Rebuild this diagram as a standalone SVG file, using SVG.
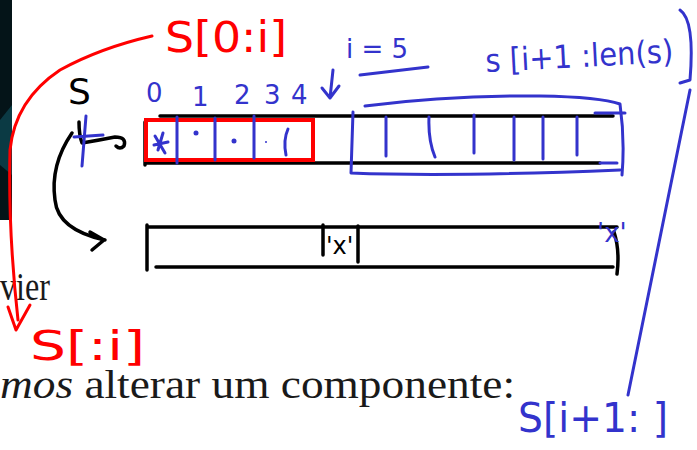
<svg xmlns="http://www.w3.org/2000/svg" width="697" height="450" viewBox="0 0 697 450">
<defs>
<style>
.k{fill:none;stroke:#000;stroke-width:3.5;stroke-linecap:round;stroke-linejoin:round}
.b{fill:none;stroke:#3333cc;stroke-width:3;stroke-linecap:round;stroke-linejoin:round}
.r{fill:none;stroke:#ff0000;stroke-width:3;stroke-linecap:round;stroke-linejoin:round}
.hb{font-family:"DejaVu Sans",sans-serif;fill:#3333cc}
.hr{font-family:"DejaVu Sans",sans-serif;fill:#ff0000}
.hk{font-family:"DejaVu Sans",sans-serif;fill:#000}
.tx{font-family:"Liberation Serif",serif;fill:#1a1a1a;font-size:40px}
</style>
</defs>
<rect width="697" height="450" fill="#fff"/>
<rect x="0" y="0" width="12" height="220" fill="#041418"/>
<path d="M0 120 L12 105 L12 175 L0 165Z" fill="#0b3a44"/>

<!-- slide text -->
<text class="tx" x="0" y="300" textLength="50" lengthAdjust="spacingAndGlyphs">vier</text>
<text class="tx" x="0" y="398" textLength="515" lengthAdjust="spacingAndGlyphs"><tspan font-style="italic">mos</tspan> alterar um componente:</text>

<!-- top array -->
<g id="array-top">
<path class="k" d="M160 116 L613 116"/>
<path class="k" d="M146 163 L600 163"/>
<path class="k" d="M145 122 L145 165"/>
<rect x="146" y="120" width="167" height="40" fill="none" stroke="#ff0000" stroke-width="4"/>
<path class="b" d="M177 117 L177 163 M215 118 L215 160 M254 116 L254 158"/>
<path class="b" d="M386 117 L386 156 M429 117 Q428 140 435 157 M474 115 L474 153 M514 117 L514 160 M543 117 L543 159 M577 117 L577 155"/>
<path class="b" d="M155 136 L165 153 M163 133 L158 150 M154 145 L168 142"/>
<circle cx="196" cy="133" r="2.5" fill="#3333cc"/>
<circle cx="234" cy="141" r="2.5" fill="#3333cc"/>
<circle cx="266" cy="142" r="1" fill="#3333cc"/>
<path class="b" d="M288 129 Q283 140 286 155"/>
</g>

<!-- blue bracket around s[i+1:] -->
<g id="slice-right">
<path class="b" d="M365 106 Q450 95 540 96 Q600 97 620 104 Q625 140 622 175"/>
<path class="b" d="M353 112 L351 173 Q450 177 620 170"/>
<path class="b" d="M595 113 L625 113 M600 163 L617 163"/>
<text class="hb" x="486" y="72" font-size="32" textLength="188" lengthAdjust="spacingAndGlyphs" transform="rotate(-3 486 72)">s [i+1 :len(s)</text>
<path class="b" d="M680 10 Q695 20 690 80 L680 83"/>
<path class="b" d="M690 90 L628 395"/>
<text class="hb" x="518" y="432" font-size="40" textLength="150" lengthAdjust="spacingAndGlyphs">S[i+1: ]</text>
</g>

<!-- index labels -->
<g id="indices">
<text class="hb" x="146" y="102" font-size="26">0</text>
<text class="hb" x="192" y="106" font-size="26">1</text>
<text class="hb" x="234" y="104" font-size="26">2</text>
<text class="hb" x="264" y="104" font-size="26">3</text>
<text class="hb" x="291" y="104" font-size="26">4</text>
<path class="b" d="M333 70 L330 98 M322 88 L330 98 L339 86"/>
<text class="hb" x="346" y="58" font-size="26">i = 5</text>
<path class="b" d="M360 75 L428 67"/>
</g>

<!-- variable s -->
<g id="var-s">
<text class="hk" x="68" y="104" font-size="36">S</text>
<path class="k" d="M79 122 Q79 135 82 143 Q100 140 115 137 Q127 137 124 146 Q120 150 116 146"/>
<path class="b" d="M86 116 L82 166 M74 137 L103 135"/>
<path class="k" d="M72 133 Q50 165 55 200 Q58 230 105 240 M90 232 L104 240 L92 250"/>
</g>

<!-- red labels -->
<g id="slice-left">
<text class="hr" x="165" y="52" font-size="42" textLength="122" lengthAdjust="spacingAndGlyphs">S[0:i]</text>
<path class="r" d="M152 36 Q100 48 60 70 Q15 100 10 150 Q8 230 18 320"/>
<path class="r" d="M8 307 L16 330 L30 305"/>
<text class="hr" x="30" y="360" font-size="40" textLength="115" lengthAdjust="spacingAndGlyphs">S[:i]</text>
</g>

<!-- bottom array -->
<g id="array-bottom">
<path class="k" d="M148 227 L617 227"/>
<path class="k" d="M156 267 L613 267"/>
<path class="k" d="M147 225 L147 270"/>
<path class="k" d="M614 232 Q620 250 617 274"/>
<path class="k" d="M323 225 L323 255 M358 226 L358 262"/>
<text class="hk" x="326" y="254" font-size="24">'x'</text>
<text class="hb" x="597" y="242" font-size="26">'x'</text>
</g>
</svg>
